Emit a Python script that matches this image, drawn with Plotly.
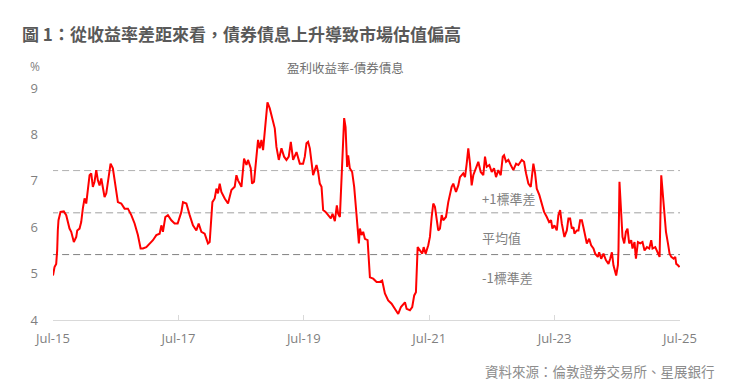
import pandas as pd
import plotly.graph_objects as go

# ---- data: months since Jul-2015, earnings yield minus bond yield (%) ----
months = [0.00, 0.29, 0.61, 0.80, 0.92, 1.05, 1.44, 2.07, 2.53, 2.84, 3.16, 3.49, 3.99, 4.45, 4.64,
          5.08, 5.40, 5.71, 6.04, 6.36, 6.67, 7.00, 7.32, 7.63, 7.95, 8.28, 8.59, 8.91, 9.24, 9.87,
          10.20, 10.50, 11.02, 11.46, 11.79, 12.11, 12.42, 13.07, 13.70, 14.34, 14.99, 15.62, 16.25,
          16.77, 17.21, 17.86, 18.49, 19.13, 19.78, 20.41, 20.74, 21.04, 21.50, 22.00, 22.65, 23.28,
          23.86, 24.57, 24.88, 25.53, 26.16, 26.79, 27.44, 27.88, 28.40, 29.03, 29.67, 29.99, 30.51,
          30.95, 31.28, 31.58, 31.91, 32.23, 32.87, 33.50, 34.15, 34.78, 35.11, 35.42, 36.07, 36.57,
          37.03, 37.33, 37.85, 38.10, 38.48, 38.94, 39.25, 39.57, 39.90, 40.21, 40.53, 41.05, 41.49,
          41.93, 42.45, 42.77, 43.22, 43.73, 44.23, 44.69, 45.13, 45.52, 45.96, 46.61, 47.24, 47.87,
          48.20, 48.52, 48.83, 49.16, 49.48, 49.79, 50.11, 50.44, 50.75, 51.07, 51.40, 51.71, 52.17,
          52.66, 53.18, 53.51, 53.95, 54.33, 54.58, 54.91, 55.23, 55.54, 55.73, 56.00, 56.30, 56.50,
          56.82, 57.26, 57.65, 57.97, 58.30, 58.55, 58.74, 59.06, 59.37, 59.70, 60.22, 60.66, 61.29,
          61.94, 62.57, 63.01, 63.53, 64.16, 64.81, 65.45, 66.08, 66.60, 67.37, 67.69, 68.32, 68.76,
          69.14, 69.47, 69.80, 70.24, 70.68, 70.95, 71.33, 71.83, 72.15, 72.48, 72.79, 73.11, 73.44,
          73.74, 74.07, 74.40, 74.70, 75.22, 75.66, 76.31, 76.62, 77.14, 77.58, 77.90, 78.53, 78.86,
          79.19, 79.49, 79.82, 80.14, 80.45, 80.78, 81.10, 81.41, 81.87, 82.37, 82.69, 83.02, 83.52,
          83.98, 84.42, 84.80, 85.24, 85.70, 86.09, 86.34, 86.72, 87.16, 87.62, 88.12, 88.64, 89.08,
          89.73, 90.17, 90.55, 90.99, 91.45, 91.95, 92.28, 92.60, 93.10, 93.56, 94.00, 94.52, 94.96,
          95.34, 95.59, 95.98, 96.43, 96.74, 97.07, 97.39, 97.89, 98.35, 98.66, 98.98, 99.31, 99.62,
          99.81, 100.27, 100.58, 100.90, 101.23, 101.53, 101.86, 102.18, 102.63, 103.01, 103.45,
          103.78, 104.29, 104.54, 104.93, 105.37, 105.83, 106.33, 106.65, 106.98, 107.28, 107.61,
          107.80, 108.13, 108.24, 108.43, 108.70, 109.01, 109.34, 109.66, 109.97, 110.29, 110.68,
          110.93, 111.31, 111.58, 111.96, 112.40, 112.84, 113.23, 113.69, 114.13, 114.51, 114.76,
          115.28, 115.80, 116.11, 116.43, 116.68, 117.00, 117.33, 117.71, 118.02, 118.35, 118.79,
          119.11, 119.30, 119.63, 119.93]
spread = [4.96, 5.14, 5.21, 5.50, 5.93, 6.15, 6.33, 6.34, 6.26, 6.11, 5.97, 5.90, 5.68, 5.79, 5.93,
          5.97, 6.11, 6.40, 6.62, 6.51, 6.87, 7.12, 7.16, 6.87, 6.98, 7.23, 7.01, 6.90, 7.05, 6.65,
          6.73, 6.98, 7.37, 7.27, 7.01, 6.73, 6.54, 6.51, 6.40, 6.40, 6.26, 6.08, 5.83,
          5.54, 5.54, 5.57, 5.65, 5.72, 5.83, 5.86, 6.04, 5.90, 6.22, 6.26, 6.15, 6.08,
          6.08, 6.33, 6.54, 6.51, 6.26, 6.04, 5.93, 6.08, 5.90, 5.86, 5.65, 5.68, 6.54,
          6.62, 6.83, 6.73, 6.94, 6.76, 6.62, 6.51, 6.80, 6.87, 7.12, 7.01, 6.87, 7.48,
          7.34, 7.45, 7.27, 6.94, 6.98, 7.45, 7.88, 7.70, 7.88, 7.66, 8.13, 8.69, 8.56,
          8.35, 8.13, 7.73, 7.45, 7.70, 7.52, 7.45, 7.52, 7.84, 7.45, 7.62, 7.37, 7.37,
          7.52, 7.81, 7.84, 7.70, 7.37, 7.12, 7.23, 7.34, 7.19, 6.94, 6.87, 6.37, 6.33,
          6.26, 6.19, 6.29, 6.13, 6.47, 6.29, 6.22, 6.94, 7.88, 8.35, 8.16, 7.30, 7.55,
          7.27, 7.19, 6.87, 6.44, 6.00, 5.65, 5.97, 5.83, 5.90, 5.75, 5.72, 4.92, 4.89,
          4.82, 4.82, 4.85, 4.57, 4.42, 4.35, 4.24, 4.13, 4.28, 4.38, 4.24, 4.21, 4.28,
          4.53, 4.60, 5.57, 5.50, 5.43, 5.57, 5.43, 5.61, 5.79, 6.22, 6.51, 6.44, 6.15,
          5.93, 5.97, 6.26, 6.15, 6.22, 6.54, 6.87, 6.94, 6.76, 6.90, 7.08, 7.16, 7.08,
          7.37, 7.70, 7.37, 6.90, 7.12, 7.23, 7.30, 7.41, 7.19, 7.12, 7.52, 7.30, 7.34,
          7.19, 7.27, 7.08, 7.23, 7.12, 7.52, 7.55, 7.41, 7.45, 7.34, 7.23, 7.37, 7.34,
          7.45, 7.41, 7.16, 6.94, 6.87, 7.37, 7.16, 6.83, 6.69, 6.51, 6.33, 6.22, 6.11,
          6.15, 5.97, 6.04, 5.93, 6.26, 6.37, 6.08, 5.79, 5.93, 6.19, 6.19, 5.97, 6.00,
          5.86, 5.93, 5.93, 6.15, 6.15, 6.00, 5.79, 5.65, 5.75, 5.61, 5.54,
          5.43, 5.36, 5.46, 5.32, 5.43, 5.29, 5.21, 5.32, 5.46, 5.18, 5.00,
          4.96, 5.18, 5.50, 6.98, 6.51, 5.79, 5.65, 5.90, 5.97, 5.65, 5.72,
          5.54, 5.68, 5.32, 5.68, 5.65, 5.68, 5.50, 5.57, 5.54, 5.72, 5.54,
          5.57, 5.43, 5.36, 7.12, 6.73, 6.22, 5.90, 5.65, 5.43, 5.36, 5.32,
          5.36, 5.21, 5.18, 5.14]

mean_val = 6.31
plus1_sd = 7.22
minus1_sd = 5.41

tick_dates = ["2015-07-01", "2017-07-01", "2019-07-01", "2021-07-01", "2023-07-01", "2025-07-01"]
tick_labels = ["Jul-15", "Jul-17", "Jul-19", "Jul-21", "Jul-23", "Jul-25"]
y_ticks = [4, 5, 6, 7, 8, 9]

title_text = "圖 1：從收益率差距來看，債券債息上升導致市場估值偏高"
series_name = "盈利收益率-債券債息"
source_text = "資料來源：倫敦證券交易所、星展銀行"
band_labels = ["+1標準差", "平均值", "-1標準差"]

start = pd.Timestamp("2015-07-01")
dates = [start + pd.to_timedelta(m * 30.4375, unit="D") for m in months]

FONT = "Open Sans, Noto Sans CJK TC, sans-serif"
CJK = "Noto Sans CJK TC, sans-serif"
GREY = "#7f7f7f"

W, H = 730, 390
L, R, T, B = 53, 50, 88, 70
pw, ph = W - L - R, H - T - B


def px(x):
    return (x - L) / pw


def py(y):
    return (H - B - y) / ph


fig = go.Figure()
fig.add_trace(go.Scatter(x=dates, y=spread, mode="lines",
                         line=dict(color="#ff0000", width=2), name=series_name,
                         showlegend=False))

for val, col in [(plus1_sd, "#b0b0b0"), (mean_val, "#a0a0a0"), (minus1_sd, "#808080")]:
    fig.add_shape(type="line", xref="x", yref="y", x0="2015-06-20", x1="2025-07-01",
                  y0=val, y1=val, line=dict(color=col, width=1, dash="7px,4px"), layer="below")

label_x = "2022-04-20"
fig.add_annotation(x=label_x, y=mean_val + 0.31, text=band_labels[0], showarrow=False,
                   xanchor="left", yanchor="middle", font=dict(family=CJK, size=13, color=GREY))
fig.add_annotation(x=label_x, y=minus1_sd + 0.37, text=band_labels[1], showarrow=False,
                   xanchor="left", yanchor="middle", font=dict(family=CJK, size=13, color=GREY))
fig.add_annotation(x=label_x, y=minus1_sd - 0.49, text=band_labels[2], showarrow=False,
                   xanchor="left", yanchor="middle", font=dict(family=CJK, size=13, color=GREY))

fig.add_annotation(xref="paper", yref="paper", x=px(20), y=py(34), text="<b>" + title_text + "</b>",
                   showarrow=False, xanchor="left", yanchor="middle",
                   font=dict(family=CJK, size=17, color="#595959"))
fig.add_annotation(xref="paper", yref="paper", x=px(345), y=py(67), text=series_name,
                   showarrow=False, xanchor="center", yanchor="middle",
                   font=dict(family=CJK, size=12.5, color="#6f6f6f"))
fig.add_annotation(xref="paper", yref="paper", x=px(35), y=py(66), text="%",
                   showarrow=False, xanchor="center", yanchor="middle",
                   font=dict(family=FONT, size=12, color=GREY))
fig.add_annotation(xref="paper", yref="paper", x=px(717), y=py(371), text=source_text,
                   showarrow=False, xanchor="right", yanchor="middle",
                   font=dict(family=CJK, size=13.5, color="#8c8c8c"))

fig.update_layout(
    width=W, height=H,
    margin=dict(l=L, r=R, t=T, b=B, pad=0),
    paper_bgcolor="white", plot_bgcolor="white",
    font=dict(family=FONT, size=13, color=GREY),
    showlegend=False,
    xaxis=dict(range=["2015-07-01", "2025-07-01"], tickvals=tick_dates, ticktext=tick_labels,
               showgrid=False, zeroline=False, showline=True, linecolor="#d9d9d9", linewidth=1,
               ticks="inside", ticklen=5, tickcolor="#d9d9d9",
               tickfont=dict(family=FONT, size=13, color=GREY), ticklabelstandoff=6),
    yaxis=dict(range=[4, 9], tickvals=y_ticks, showgrid=False, zeroline=False, showline=False,
               ticks="", tickfont=dict(family=FONT, size=13, color=GREY), ticklabelstandoff=14),
)

fig.write_html("out.html")
